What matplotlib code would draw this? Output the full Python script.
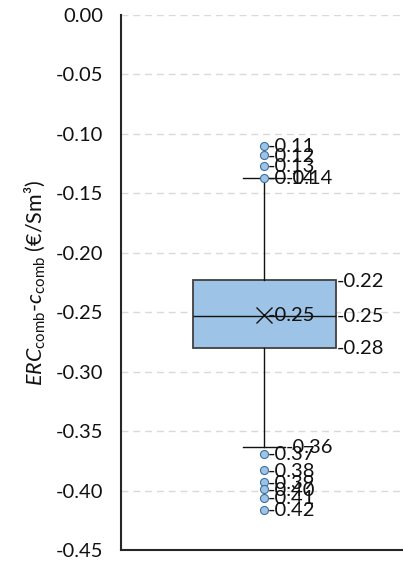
import matplotlib
matplotlib.use("Agg")
import matplotlib.pyplot as plt
from matplotlib.ticker import FormatStrFormatter

plt.rcParams['font.family'] = ['Lato', 'DejaVu Sans']
plt.rcParams['mathtext.fontset'] = 'custom'
plt.rcParams['mathtext.rm'] = 'Lato'
plt.rcParams['mathtext.it'] = 'Lato:italic'
plt.rcParams['axes.unicode_minus'] = False

# Statistiche del box plot (€/Sm3)
whisker_high = -0.137
q3 = -0.223
median = -0.253
q1 = -0.280
whisker_low = -0.363
mean = -0.252
outliers_high = [-0.110, -0.118, -0.127, -0.137]
outliers_low = [-0.369, -0.383, -0.393, -0.399, -0.406, -0.416]

yticks = [0.00, -0.05, -0.10, -0.15, -0.20, -0.25, -0.30, -0.35, -0.40, -0.45]

fill = '#9DC3E6'
dark = '#404040'
ink = '#111111'

fig = plt.figure(figsize=(4.03, 5.62), dpi=100)
ax = fig.add_axes([121 / 403, 12 / 562, 286 / 403, 535 / 562])

stats = [{
    'whislo': whisker_low, 'q1': q1, 'med': median, 'q3': q3,
    'whishi': whisker_high, 'mean': mean,
    'fliers': outliers_high + outliers_low,
}]
ax.bxp(stats, positions=[1], widths=1.0, capwidths=0.29, patch_artist=True,
       showmeans=True,
       boxprops=dict(facecolor=fill, edgecolor=dark, linewidth=1.3),
       medianprops=dict(color=ink, linewidth=1.0),
       whiskerprops=dict(color=ink, linewidth=1.0),
       capprops=dict(color=ink, linewidth=1.0),
       flierprops=dict(marker='o', markersize=5.8, markerfacecolor=fill,
                       markeredgecolor='#41719C', markeredgewidth=0.8),
       meanprops=dict(marker='x', markersize=11, markeredgecolor=ink,
                      markeredgewidth=1.0))

# Etichette dei valori
lab = dict(fontsize=14.5, color=ink, va='center', ha='left',
           textcoords='offset pixels')
for v in outliers_high + outliers_low:
    ax.annotate(f'{v:.2f}', xy=(1, v), xytext=(4, -1), **lab)
for v in (whisker_high, whisker_low):
    ax.annotate(f'{v:.2f}', xy=(1, v), xytext=(22, -1), **lab)
for v in (q3, median, q1):
    ax.annotate(f'{v:.2f}', xy=(1, v), xytext=(73, -1), **lab)
ax.annotate(f'{mean:.2f}', xy=(1, mean), xytext=(4, -1), **lab)

ax.set_xlim(0, 2)
ax.set_ylim(-0.45, 0.0)
ax.set_yticks(yticks)
ax.yaxis.set_major_formatter(FormatStrFormatter('%.2f'))
ax.set_xticks([])
ax.tick_params(axis='y', length=0, pad=13, labelsize=14.5, labelcolor=ink)
ax.yaxis.grid(True, color='#D9D9D9', linewidth=1.0, linestyle=(0, (5, 3.5)))
ax.set_axisbelow(True)

for side in ('top', 'right'):
    ax.spines[side].set_visible(False)
for side in ('left', 'bottom'):
    ax.spines[side].set_color('#262626')
    ax.spines[side].set_linewidth(1.5)

ax.set_ylabel(r'$\mathit{ERC}_{\mathrm{comb}}$-$\mathit{c}_{\mathrm{comb}}$ (€/Sm³)',
              fontsize=15.5, color=ink, labelpad=6)

fig.savefig('out.png', dpi=100)
